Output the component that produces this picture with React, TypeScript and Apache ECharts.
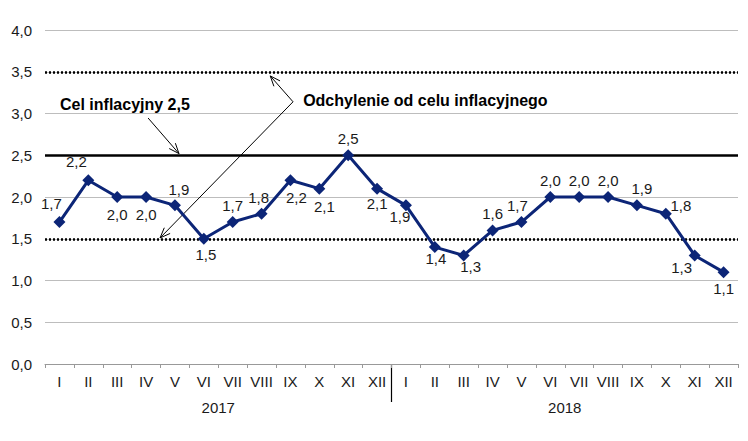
import React, { useEffect, useRef } from "react";
import * as echarts from "echarts";

const categories = ["I","II","III","IV","V","VI","VII","VIII","IX","X","XI","XII","I","II","III","IV","V","VI","VII","VIII","IX","X","XI","XII"];
const years = ["2017", "2018"];
const cpi = [1.7, 2.2, 2.0, 2.0, 1.9, 1.5, 1.7, 1.8, 2.2, 2.1, 2.5, 2.1, 1.9, 1.4, 1.3, 1.6, 1.7, 2.0, 2.0, 2.0, 1.9, 1.8, 1.3, 1.1];
const target = 2.5;
const bandLow = 1.5;
const bandHigh = 3.5;
const targetLabel = "Cel inflacyjny 2,5";
const bandLabel = "Odchylenie od celu inflacyjnego";

// label placement per point (style only)
const labelPos: string[] = ["top","top","bottom","bottom","top","bottom","top","top","bottom","bottom","top","bottom","bottom","bottom","bottom","top","top","top","top","top","top","top","bottom","bottom"];
const labelOff: number[][] = [[-8,-1],[-12,-1],[0,0],[0,0],[4,2],[2,-2],[0,1],[-3,1],[6,0],[5,0],[0,1],[0,-3],[-6,-6],[1,-6],[7,-6],[0,1],[-4,1],[0,1],[0,1],[0,1],[5,1],[15,9],[-13,-5],[0,-1]];

const FONT = "Arial, 'Liberation Sans', sans-serif";
const TXT = "#1a1a1a";
const fmt = (v: number) => v.toFixed(1).replace(".", ",");

export default function App() {
  const ref = useRef<HTMLDivElement>(null);
  useEffect(() => {
    const chart = echarts.init(ref.current!, undefined, { renderer: "svg" });
    const option: any = {
      animation: false,
      grid: { left: 37, right: 2, top: 22, bottom: 69 },
      xAxis: [
        {
          type: "category",
          data: categories,
          boundaryGap: true,
          axisLine: { lineStyle: { color: "#999", width: 1 } },
          axisTick: { show: true, length: 4, lineStyle: { color: "#999" } },
          axisLabel: { color: TXT, fontSize: 15, fontFamily: FONT, margin: 10, interval: 0 },
        },
        {
          type: "category",
          data: years,
          position: "bottom",
          offset: 26,
          axisLine: { show: false },
          axisTick: { show: false },
          axisLabel: { color: TXT, fontSize: 15, fontFamily: FONT, margin: 10 },
        },
      ],
      yAxis: {
        type: "value",
        min: 0,
        max: 4,
        interval: 0.5,
        axisLine: { show: false },
        axisTick: { show: false },
        splitLine: { lineStyle: { color: "#bdbdbd", width: 1 } },
        axisLabel: { color: TXT, fontSize: 15, fontFamily: FONT, margin: 13, formatter: (v: number) => fmt(v) },
      },
      series: [
        {
          type: "line",
          xAxisIndex: 0,
          data: cpi.map((v, i) => ({
            value: v,
            label: { position: labelPos[i], offset: labelOff[i] },
          })),
          symbol: "diamond",
          symbolSize: 12,
          lineStyle: { color: "#0c2577", width: 3 },
          itemStyle: { color: "#0c2577" },
          label: {
            show: true,
            distance: 4,
            color: TXT,
            fontSize: 15,
            fontFamily: FONT,
            formatter: (p: any) => fmt(p.value),
          },
          markLine: {
            silent: true,
            symbol: "none",
            label: { show: false },
            data: [
              { yAxis: target, lineStyle: { color: "#000", width: 2.5, type: "solid" } },
              { yAxis: bandLow, lineStyle: { color: "#000", width: 2.5, type: [2, 2] } },
              { yAxis: bandHigh, lineStyle: { color: "#000", width: 2.5, type: [2, 2] } },
            ],
          },
          z: 5,
        },
      ],
    };
    chart.setOption(option);

    const c0 = chart.convertToPixel({ xAxisIndex: 0 }, 0) as number;
    const c1 = chart.convertToPixel({ xAxisIndex: 0 }, 1) as number;
    const step = c1 - c0;
    const P = (i: number, v: number) => [c0 + i * step, chart.convertToPixel({ yAxisIndex: 0 }, v) as number];
    const y0 = chart.convertToPixel({ yAxisIndex: 0 }, 0) as number;
    const sepX = c0 + 11.5 * step;

    const arrow = (a: number[], b: number[]) => {
      const ang = Math.atan2(b[1] - a[1], b[0] - a[0]);
      const L = 11, w = 0.38;
      const p1 = [b[0] - L * Math.cos(ang - w), b[1] - L * Math.sin(ang - w)];
      const p2 = [b[0] - L * Math.cos(ang + w), b[1] - L * Math.sin(ang + w)];
      return [
        { type: "line", shape: { x1: a[0], y1: a[1], x2: b[0], y2: b[1] }, style: { stroke: "#000", lineWidth: 1 } },
        { type: "polyline", shape: { points: [p1, b, p2] }, style: { stroke: "#000", lineWidth: 1, fill: null } },
      ];
    };

    const tStart = P(3.07, 2.946), tEnd = P(4.14, 2.52);
    const vtx = P(8.09, 3.14), up = P(7.3, 3.45), low = P(3.485, 1.51);
    const tTxt = P(0.02, 3.11), bTxt = P(8.44, 3.15);

    chart.setOption({
      graphic: [
        { type: "line", shape: { x1: sepX, y1: y0, x2: sepX, y2: y0 + 38 }, style: { stroke: "#000", lineWidth: 1.2 } },
        ...arrow(tStart, tEnd),
        ...arrow(vtx, up),
        ...arrow(vtx, low),
        { type: "text", x: tTxt[0], y: tTxt[1], style: { text: targetLabel, font: `bold 16px ${FONT}`, fill: "#000", verticalAlign: "middle" } },
        { type: "text", x: bTxt[0], y: bTxt[1], style: { text: bandLabel, font: `bold 16px ${FONT}`, fill: "#000", verticalAlign: "middle" } },
      ],
    });
    return () => chart.dispose();
  }, []);
  return <div ref={ref} style={{ width: 732, height: 425 }} />;
}
